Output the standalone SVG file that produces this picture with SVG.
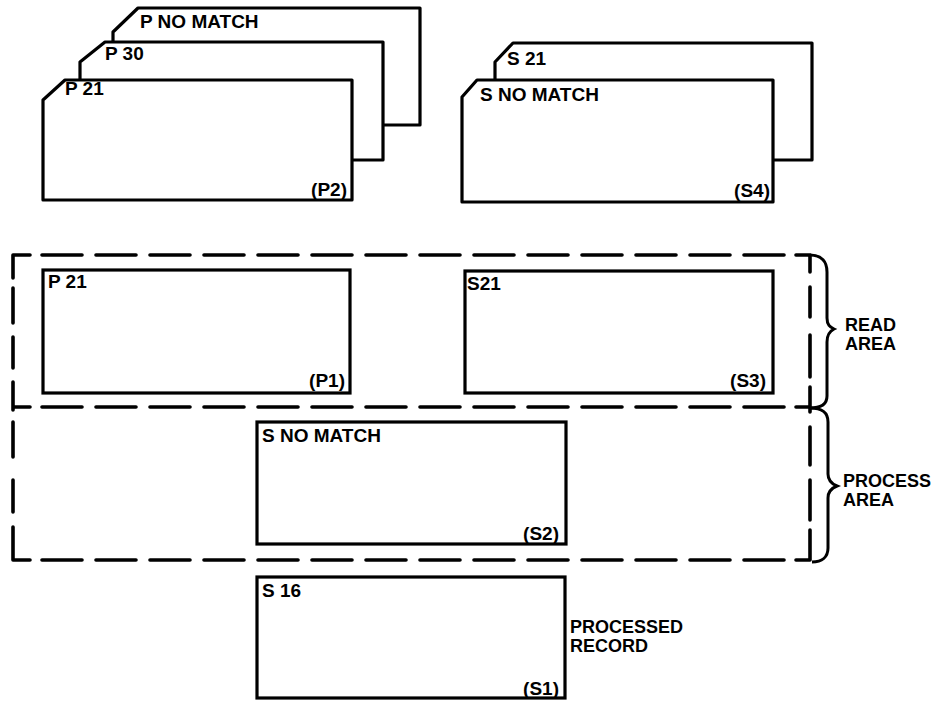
<svg xmlns="http://www.w3.org/2000/svg" width="937" height="701" viewBox="0 0 937 701">
<style>
.card{fill:#fff;stroke:#000;stroke-width:3.2;stroke-linejoin:round}
.box{fill:#fff;stroke:#000;stroke-width:3.2}
.t{font-family:"Liberation Sans",Arial,sans-serif;font-weight:bold;font-size:19px;fill:#000}
.s{font-family:"Liberation Sans",Arial,sans-serif;font-weight:bold;font-size:18px;fill:#000}
.e{text-anchor:end}
.dh{fill:none;stroke:#000;stroke-width:3.6;stroke-dasharray:40 14;stroke-linecap:round}
.sol{fill:none;stroke:#000;stroke-width:3.6;stroke-linecap:round;stroke-linejoin:round}
.br{fill:none;stroke:#000;stroke-width:3}
</style>
<rect width="937" height="701" fill="#fff"/>
<g id="p-file">
<path class="card" d="M113,32 L138,8 L420,8 L420,125 L113,125 Z"/>
<text class="t" x="140" y="28">P NO MATCH</text>
<path class="card" d="M80,62 L105,42 L383,42 L383,160 L80,160 Z"/>
<text class="t" x="105" y="60">P 30</text>
<path class="card" d="M43,100 L65,80 L352,80 L352,200 L43,200 Z"/>
<text class="t" x="65" y="95">P 21</text>
<text class="t e" x="347" y="196">(P2)</text>
</g>
<g id="s-file">
<path class="card" d="M495,62 L513,43 L812,43 L812,160 L495,160 Z"/>
<text class="t" x="507" y="65">S 21</text>
<path class="card" d="M462,97 L477,80 L773,80 L773,202 L462,202 Z"/>
<text class="t" x="480" y="101">S NO MATCH</text>
<text class="t e" x="770" y="197">(S4)</text>
</g>
<g id="areas">
<line class="dh" x1="42" y1="255" x2="784" y2="255"/>
<line class="dh" x1="42" y1="407" x2="784" y2="407"/>
<line class="dh" x1="42" y1="560" x2="784" y2="560"/>
<path class="sol" d="M13,288 L13,323 M13,337 L13,368 M13,422 L13,457 M13,480 L13,512"/>
<path class="sol" d="M810,287 L810,317 M810,335 L810,377 M810,427 L810,465 M810,480 L810,520"/>
<path class="sol" d="M13,278 L13,255 L30,255"/>
<path class="sol" d="M13,382 L13,410 M13,407 L30,407"/>
<path class="sol" d="M13,527 L13,560 L30,560"/>
<path class="sol" d="M796,255 L810,255 L810,272"/>
<path class="sol" d="M810,387 L810,412 M796,407 L810,407"/>
<path class="sol" d="M810,530 L810,560 L796,560"/>
<path class="br" d="M810,255 C822,255 827,262 827,272 L827,318 C827,325 830,327 834,329 C830,331 827,334 827,342 L827,396 C827,404 822,408 810,408"/>
<path class="br" d="M810,408 C822,408 828,412 828,422 L828,474 C828,481 832,484 837,486 C832,488 828,491 828,498 L828,548 C828,557 822,562 812,562"/>
<text class="s" x="845" y="331">READ</text>
<text class="s" x="845" y="350">AREA</text>
<text class="s" x="843" y="487">PROCESS</text>
<text class="s" x="843" y="506">AREA</text>
</g>
<g id="p1">
<rect class="box" x="43" y="270" width="307" height="123"/>
<text class="t" x="48" y="288">P 21</text>
<text class="t e" x="345" y="387">(P1)</text>
</g>
<g id="s3">
<rect class="box" x="465" y="271" width="308" height="122"/>
<text class="t" x="467" y="290">S21</text>
<text class="t e" x="766" y="387">(S3)</text>
</g>
<g id="s2">
<rect class="box" x="257" y="422" width="309" height="122"/>
<text class="t" x="262" y="442">S NO MATCH</text>
<text class="t e" x="559" y="540">(S2)</text>
</g>
<g id="s1">
<rect class="box" x="257" y="577" width="308" height="121"/>
<text class="t" x="262" y="597">S 16</text>
<text class="t e" x="559" y="695">(S1)</text>
<text class="s" x="570" y="633">PROCESSED</text>
<text class="s" x="570" y="652">RECORD</text>
</g>
</svg>
